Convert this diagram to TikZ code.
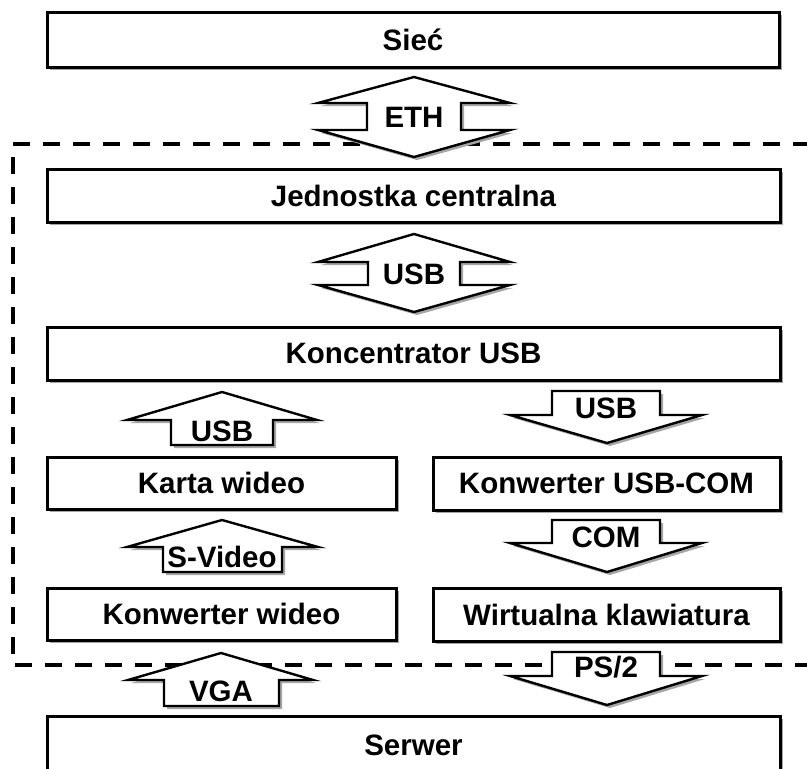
\documentclass[tikz,border=0pt]{standalone}
\usepackage{fontspec}
\setmainfont{Liberation Sans}
\usetikzlibrary{shadows}
\begin{document}
\begin{tikzpicture}[x=1pt,y=-1pt,
  shade/.style={drop shadow={shadow xshift=3pt,shadow yshift=-3pt,fill=black!35,opacity=1}},
  blk/.style={draw=black,line width=3pt,fill=white,shade,inner sep=0pt,
    font=\fontsize{29.5}{32}\selectfont\bfseries},
  arr/.style={draw=black,line width=2.4pt,fill=white,line join=miter,shade},
  lbl/.style={font=\fontsize{29.5}{32}\selectfont\bfseries,inner sep=0pt},
  dashbox/.style={draw=black,line width=4pt,dash pattern=on 17pt off 13pt}]
\clip (0,0) rectangle (807,769);
\useasboundingbox (0,0) rectangle (807,769);
\fill[white] (0,0) rectangle (807,769);

% boxes
\node[blk,minimum width=732,minimum height=55] (siec) at (413,39.5) {Sieć};
\node[blk,minimum width=733,minimum height=53] (cpu) at (413.5,195.5) {Jednostka centralna};
\node[blk,minimum width=733,minimum height=53] (hub) at (413.5,353.5) {Koncentrator USB};
\node[blk,minimum width=349,minimum height=52] (karta) at (221.5,483) {Karta wideo};
\node[blk,minimum width=347,minimum height=53] (konw) at (606.5,483.5) {Konwerter USB-COM};
\node[blk,minimum width=349,minimum height=52] (kwid) at (221.5,614) {Konwerter wideo};
\node[blk,minimum width=347,minimum height=53] (klaw) at (606.5,614.5) {Wirtualna klawiatura};
\node[blk,minimum width=733,minimum height=74] (serwer) at (413.5,753) {};
\node[lbl] (serwertxt) at (413.5,745) {Serwer};

% dashed frame
\draw[dashbox] (840,144) -- (13,144) -- (13,665) -- (840,665);

% ETH double arrow
\draw[arr] (414,77) -- (510,103) -- (461,103) -- (461,130) -- (510,130) -- (414,157)
  -- (318,130) -- (367,130) -- (367,103) -- (318,103) -- cycle;
\node[lbl] (eth) at (414,117) {ETH};

% USB double arrow
\draw[arr] (414,234) -- (510,262) -- (460,262) -- (460,285) -- (510,285) -- (414,312)
  -- (318,285) -- (368,285) -- (368,262) -- (318,262) -- cycle;
\node[lbl] (usb1) at (414,274) {USB};

% USB up (left)
\draw[arr] (222,392) -- (317,420) -- (273,420) -- (273,445) -- (171,445) -- (171,420) -- (127,420) -- cycle;
\node[lbl] (usb2) at (222,431) {USB};

% USB down (right)
\draw[arr] (552,391) -- (660,391) -- (660,415) -- (702,415) -- (607,443) -- (510,415) -- (552,415) -- cycle;
\node[lbl] (usb3) at (606,408) {USB};

% S-Video up
\draw[arr] (222,520) -- (318,547) -- (282,547) -- (282,572) -- (163,572) -- (163,547) -- (127,547) -- cycle;
\node[lbl] (svid) at (222,557) {S-Video};

% COM down
\draw[arr] (552,520) -- (660,520) -- (660,543) -- (702,543) -- (607,572) -- (510,543) -- (552,543) -- cycle;
\node[lbl] (com) at (606,537) {COM};

% VGA up
\draw[arr] (221,653) -- (313,680) -- (279,680) -- (279,706) -- (164,706) -- (164,680) -- (128,680) -- cycle;
\node[lbl] (vga) at (221,691) {VGA};

% PS/2 down
\draw[arr] (552,652) -- (660,652) -- (660,676) -- (702,676) -- (607,705) -- (510,676) -- (552,676) -- cycle;
\node[lbl] (ps2) at (606,667) {PS/2};
\end{tikzpicture}
\end{document}
